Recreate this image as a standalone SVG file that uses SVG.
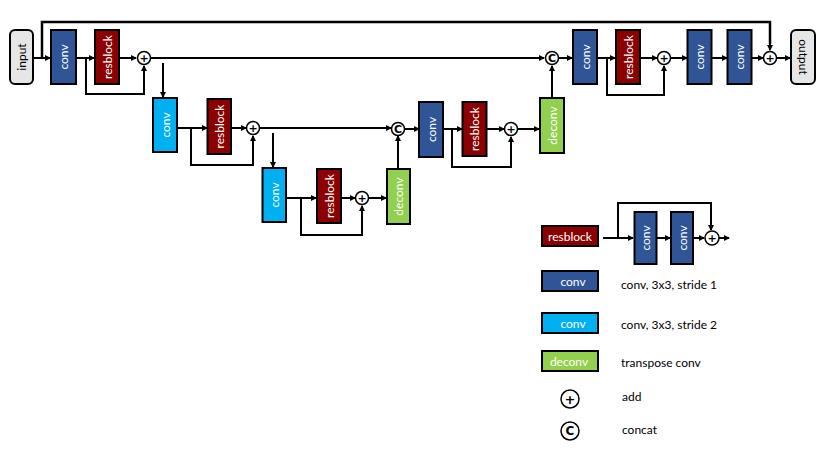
<svg xmlns="http://www.w3.org/2000/svg" width="831" height="450" viewBox="0 0 831 450">
<style>
.box{stroke:#000;stroke-width:2}
.db{fill:#2f5597}
.lb{fill:#00b0f0}
.rd{fill:#8b0000}
.gr{fill:#92d050}
.io{fill:#e7e6e6;stroke:#000;stroke-width:2}
.bt{font-family:Lato,"Liberation Sans",sans-serif;font-size:12px;fill:#fff;text-anchor:middle;dominant-baseline:central}
.iot{font-family:Lato,"Liberation Sans",sans-serif;font-size:12px;fill:#000;text-anchor:middle;dominant-baseline:central}
.lt{font-family:Lato,"Liberation Sans",sans-serif;font-size:12px;fill:#000}
.ln{fill:none;stroke:#000;stroke-width:2}
.ar{fill:none;stroke:#000;stroke-width:2;marker-end:url(#ah)}
.op{fill:#fff;stroke:#000;stroke-width:1.5}
.opt{font-family:"DejaVu Sans",sans-serif;font-size:11px;font-weight:bold;fill:#000;text-anchor:middle;dominant-baseline:central}
</style>
<defs>
<marker id="ah" markerWidth="6" markerHeight="6" refX="5" refY="3" orient="auto" markerUnits="userSpaceOnUse">
<path d="M0,0 L6,3 L0,6 z" fill="#000"/>
</marker>
</defs>

<g id="connectors">
<!-- row 1 -->
<path class="ar" d="M33,58 H50"/>
<path class="ln" d="M42,58 V22 H770 V44" style="stroke-width:2.5"/>
<path class="ar" d="M770,40 V50"/>
<path class="ar" d="M76,58 H94"/>
<path class="ar" d="M86,58 V94 H144 V66"/>
<path class="ar" d="M119,58 H136"/>
<path class="ar" d="M151,58 H544"/>
<path class="ar" d="M163,63 V97"/>
<path class="ar" d="M552,98 V66"/>
<path class="ar" d="M559,58 H572"/>
<path class="ar" d="M597,58 H615"/>
<path class="ar" d="M607,58 V95 H664 V66"/>
<path class="ar" d="M640,58 H657"/>
<path class="ar" d="M671,58 H687"/>
<path class="ar" d="M712,58 H727"/>
<path class="ar" d="M752,58 H763"/>
<path class="ar" d="M777,58 H790"/>
<!-- row 2 -->
<path class="ar" d="M177,128 H207"/>
<path class="ar" d="M191,128 V165 H253 V136"/>
<path class="ar" d="M231,128 H246"/>
<path class="ar" d="M260,128 H391"/>
<path class="ar" d="M273,133 V167"/>
<path class="ar" d="M398,169 V136"/>
<path class="ar" d="M405,129 H419"/>
<path class="ar" d="M443,129 H462"/>
<path class="ar" d="M452,129 V167 H511 V137"/>
<path class="ar" d="M487,129 H504"/>
<path class="ar" d="M518,129 H539"/>
<!-- row 3 -->
<path class="ar" d="M286,198 H316"/>
<path class="ar" d="M301,198 V235 H362 V206"/>
<path class="ar" d="M341,198 H355"/>
<path class="ar" d="M369,198 H386"/>
<!-- legend -->
<path class="ar" d="M603,238 H633"/>
<path class="ln" d="M618,238 V203 H711 V224"/>
<path class="ar" d="M711,222 V230"/>
<path class="ar" d="M657,238 H670"/>
<path class="ar" d="M693,238 H704"/>
<path class="ar" d="M719,238 H729"/>
</g>

<g id="input"><rect class="io" x="10" y="30" width="23" height="54" rx="5"/><text class="iot" transform="translate(21.5,57) rotate(-90)">input</text></g>
<g id="conv1"><rect class="box db" x="51" y="30" width="25" height="54"/><text class="bt" transform="translate(63.5,57) rotate(-90)">conv</text></g>
<g id="resblock1"><rect class="box rd" x="95" y="30" width="24" height="54"/><text class="bt" transform="translate(107,57) rotate(-90)">resblock</text></g>
<g id="add1"><circle class="op" cx="144" cy="58" r="6.5"/><text class="opt" x="144" y="58">+</text></g>
<g id="concat1"><circle class="op" cx="552" cy="58" r="6.5"/><text class="opt" x="552" y="58">C</text></g>
<g id="conv4"><rect class="box db" x="573" y="30" width="24" height="54"/><text class="bt" transform="translate(585,57) rotate(-90)">conv</text></g>
<g id="resblock4"><rect class="box rd" x="616" y="30" width="24" height="54"/><text class="bt" transform="translate(628,57) rotate(-90)">resblock</text></g>
<g id="add4"><circle class="op" cx="664" cy="58" r="6.5"/><text class="opt" x="664" y="58">+</text></g>
<g id="conv5"><rect class="box db" x="687.5" y="30" width="24" height="54"/><text class="bt" transform="translate(699.5,57) rotate(-90)">conv</text></g>
<g id="conv6"><rect class="box db" x="727.5" y="30" width="24" height="54"/><text class="bt" transform="translate(739.5,57) rotate(-90)">conv</text></g>
<g id="add5"><circle class="op" cx="770" cy="58" r="6.5"/><text class="opt" x="770" y="58">+</text></g>
<g id="output"><rect class="io" x="791" y="30" width="24" height="54" rx="5"/><text class="iot" transform="translate(803,57) rotate(90)">output</text></g>

<g id="conv2"><rect class="box lb" x="153" y="98" width="24" height="54"/><text class="bt" transform="translate(165,125) rotate(-90)">conv</text></g>
<g id="resblock2"><rect class="box rd" x="207.5" y="99" width="23.5" height="55"/><text class="bt" transform="translate(219.3,126.5) rotate(-90)">resblock</text></g>
<g id="add2"><circle class="op" cx="253" cy="128" r="6.5"/><text class="opt" x="253" y="128">+</text></g>
<g id="concat2"><circle class="op" cx="398" cy="129" r="6.5"/><text class="opt" x="398" y="129">C</text></g>
<g id="conv3b"><rect class="box db" x="419" y="102" width="24" height="55"/><text class="bt" transform="translate(431,129.5) rotate(-90)">conv</text></g>
<g id="resblock3b"><rect class="box rd" x="462.5" y="102" width="24" height="54"/><text class="bt" transform="translate(474.5,129) rotate(-90)">resblock</text></g>
<g id="add3b"><circle class="op" cx="511" cy="129" r="6.5"/><text class="opt" x="511" y="129">+</text></g>
<g id="deconv1"><rect class="box gr" x="540" y="98" width="24" height="55"/><text class="bt" transform="translate(552,125.5) rotate(-90)">deconv</text></g>

<g id="conv3"><rect class="box lb" x="262.5" y="168" width="23.5" height="54"/><text class="bt" transform="translate(274.3,195) rotate(-90)">conv</text></g>
<g id="resblock3"><rect class="box rd" x="317" y="169" width="24" height="54"/><text class="bt" transform="translate(329,196) rotate(-90)">resblock</text></g>
<g id="add3"><circle class="op" cx="362" cy="198" r="6.5"/><text class="opt" x="362" y="198">+</text></g>
<g id="deconv2"><rect class="box gr" x="387" y="169" width="23" height="55"/><text class="bt" transform="translate(398.5,196.5) rotate(-90)">deconv</text></g>

<g id="legend">
<rect class="box rd" x="542" y="226" width="56" height="20"/><text class="bt" x="570" y="236">resblock</text>
<rect class="box db" x="634.5" y="212" width="22" height="52"/><text class="bt" transform="translate(645.5,238) rotate(-90)">conv</text>
<rect class="box db" x="671" y="212" width="22" height="52"/><text class="bt" transform="translate(682,238) rotate(-90)">conv</text>
<circle class="op" cx="712" cy="238" r="7"/><text class="opt" x="712" y="238">+</text>
<rect class="box db" x="542" y="271" width="56" height="20"/><text class="bt" x="573" y="281">conv</text>
<text class="lt" x="621" y="289">conv, 3x3, stride 1</text>
<rect class="box lb" x="542" y="313" width="56" height="20"/><text class="bt" x="573" y="323">conv</text>
<text class="lt" x="621" y="329">conv, 3x3, stride 2</text>
<rect class="box gr" x="542" y="351" width="56" height="20"/><text class="bt" x="569" y="361">deconv</text>
<text class="lt" x="621" y="367">transpose conv</text>
<circle class="op" cx="570" cy="399" r="9"/><text class="opt" x="570" y="399" style="font-size:13px">+</text>
<text class="lt" x="622" y="401">add</text>
<circle class="op" cx="570" cy="431" r="9"/><text class="opt" x="570" y="431" style="font-size:12px">C</text>
<text class="lt" x="622" y="434">concat</text>
</g>
</svg>
